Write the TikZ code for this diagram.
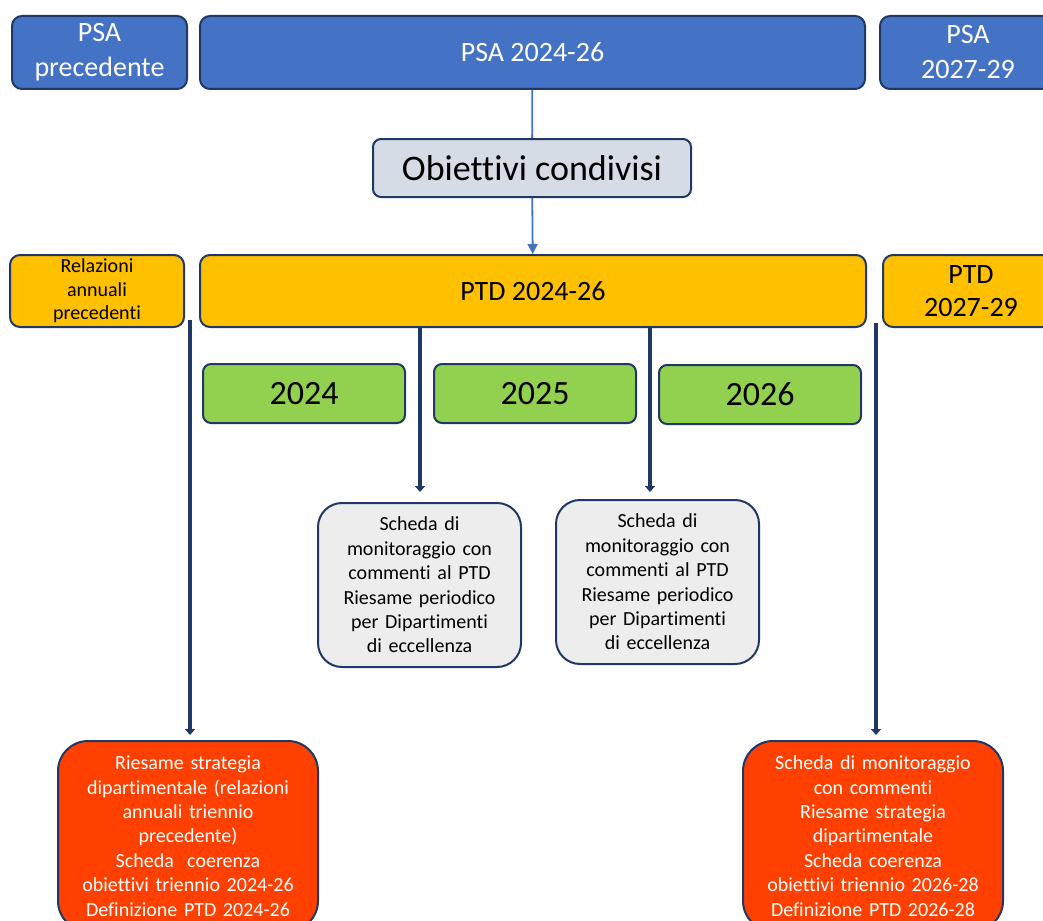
\documentclass[tikz,border=0pt]{standalone}
\usepackage{fontspec}
\setmainfont{Carlito}[Ligatures={NoCommon}]
\usetikzlibrary{positioning,arrows.meta}

\definecolor{psablue}{HTML}{4472C4}
\definecolor{navy}{HTML}{203864}
\definecolor{ptdyellow}{HTML}{FFC000}
\definecolor{yeargreen}{HTML}{92D050}
\definecolor{objgray}{HTML}{D6DCE5}
\definecolor{mongray}{HTML}{EDEDED}
\definecolor{riesred}{HTML}{FF4000}

\begin{document}
\begin{tikzpicture}[x=0.5pt, y=-0.5pt]
    \tikzstyle{psabox}=[rectangle, rounded corners=5pt, draw=navy, line width=1pt, fill=psablue, text=white, align=center, inner sep=0pt, minimum height=36.5pt, font=\fontsize{14}{17.5}\selectfont]
    \tikzstyle{ptdbox}=[rectangle, rounded corners=5pt, draw=navy, line width=1pt, fill=ptdyellow, align=center, inner sep=0pt, minimum height=36pt, font=\fontsize{14}{16.5}\selectfont]
    \tikzstyle{yearbox}=[rectangle, rounded corners=4pt, draw=navy, line width=1pt, fill=yeargreen, inner sep=0pt, minimum width=101pt, minimum height=29.5pt, font=\fontsize{17}{20}\selectfont]
    \tikzstyle{monbox}=[rectangle, rounded corners=12pt, draw=navy, line width=1pt, fill=mongray, text width=92pt, align=center, inner sep=0pt, minimum width=101.5pt, minimum height=82pt, font=\fontsize{10}{12.2}\selectfont]
    \tikzstyle{riesbox}=[rectangle, rounded corners=15pt, draw=navy, line width=1pt, fill=riesred, text=white, text width=122pt, align=center, inner sep=0pt, minimum width=130pt, minimum height=95pt, anchor=north, font=\fontsize{10}{12.2}\selectfont]
    \tikzstyle{bluearrow}=[psablue, line width=0.9pt]
    \tikzstyle{arrow}=[navy, line width=2pt, -{Triangle[width=5pt, length=3pt]}]

    \useasboundingbox (0,0) rectangle (1043,920);
    \clip (0,0) rectangle (1043,920);

    % PSA row
    \node[psabox, minimum width=87.5pt] (psaprev) at (99.5,52.5) {PSA\\precedente};
    \node[psabox, minimum width=332.5pt] (psa) at (532.5,52.5) {PSA 2024-26};
    \node[psabox, minimum width=88pt] (psanext) at (968,52.5) {PSA\\2027-29};

    % Shared objectives
    \node[rectangle, rounded corners=4pt, draw=navy, line width=1pt, fill=objgray, inner sep=0pt, minimum width=159pt, minimum height=29pt, font=\fontsize{18}{21}\selectfont] (obj) at (532,168) {Obiettivi condivisi};

    % PTD row
    \node[ptdbox, minimum width=87pt, font=\fontsize{10}{11.8}\selectfont] (relprev) at (97,291) {Relazioni\\annuali\\precedenti};
    \node[ptdbox, minimum width=333pt] (ptd) at (533,291) {PTD 2024-26};
    \node[ptdbox, minimum width=88pt] (ptdnext) at (971,291) {PTD\\2027-29};

    % Years
    \node[yearbox] (y2024) at (304,393.5) {2024};
    \node[yearbox] (y2025) [right=13.5pt of y2024] {2025};
    \node[yearbox] (y2026) [right=10.5pt of y2025, yshift=-0.5pt] {2026};

    % Monitoring
    \node[monbox] (monA) at (419.5,585) {Scheda di\\monitoraggio con\\commenti al PTD\\Riesame periodico\\per Dipartimenti\\di eccellenza};
    \node[monbox] (monB) at (657.5,582) {Scheda di\\monitoraggio con\\commenti al PTD\\Riesame periodico\\per Dipartimenti\\di eccellenza};

    % Review
    \node[riesbox] (riesA) at (188,740) {Riesame strategia\\dipartimentale (relazioni\\annuali triennio\\precedente)\\Scheda\ \ coerenza\\obiettivi triennio 2024-26\\Definizione PTD 2024-26};
    \node[riesbox] (riesB) at (873,740) {Scheda di monitoraggio\\con commenti\\Riesame strategia\\dipartimentale\\Scheda coerenza\\obiettivi triennio 2026-28\\Definizione PTD 2026-28};

    \coordinate (startA) at (190,320);
    \coordinate (startB) at (876,323);
    \coordinate (mid1) at (420,327);
    \coordinate (mid2) at (650,327);

    % Arrows
    \draw[bluearrow] (psa) -- (obj);
    \draw[bluearrow, -{Triangle[width=5pt, length=5pt]}] (obj) -- (ptd);
    \draw[arrow, shorten >=2.5pt] (startA) -- (startA |- riesA.north);
    \draw[arrow, shorten >=5pt] (mid1) -- (mid1 |- monA.north);
    \draw[arrow, shorten >=3.5pt] (mid2) -- (mid2 |- monB.north);
    \draw[arrow, shorten >=2.5pt] (startB) -- (startB |- riesB.north);
\end{tikzpicture}
\end{document}
